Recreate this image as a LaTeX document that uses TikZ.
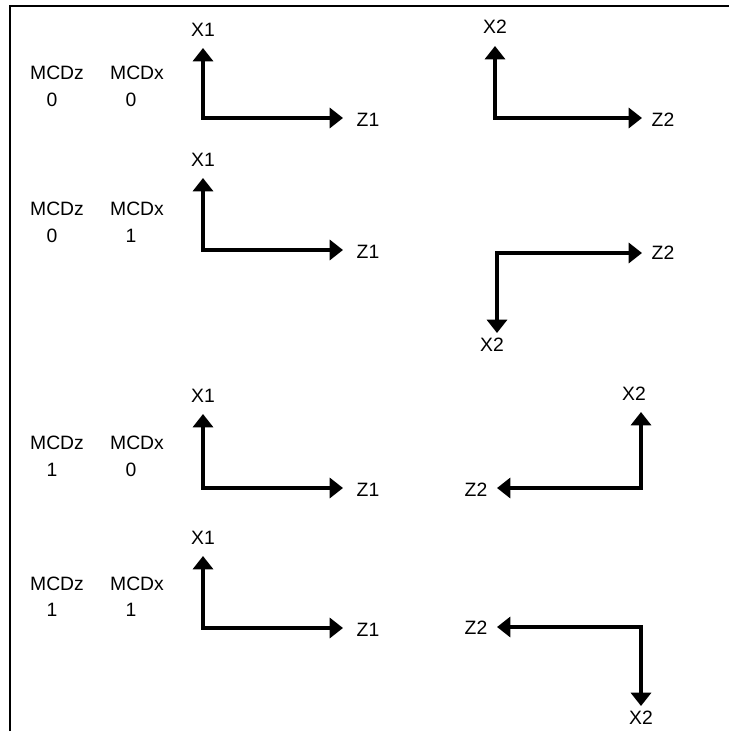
\documentclass[tikz,border=0pt]{standalone}
\usepackage{fontspec}
\setmainfont{Liberation Sans}
\usetikzlibrary{arrows.meta}
\begin{document}
\begin{tikzpicture}[x=0.75pt,y=-0.75pt,
  every node/.style={font=\fontsize{14.5}{16}\selectfont,inner sep=0pt},
  axis/.style={line width=3pt,{Triangle[length=10pt,width=15pt]}-{Triangle[length=10pt,width=15pt]}}]
  \useasboundingbox (0,0) rectangle (734,731);
  \draw[line width=0.8pt] (10,731) -- (10,6) -- (729,6);
  % left column labels
  \node (mz1) at (57,73) {MCDz};  \node (mx1) at (137,73) {MCDx};
  \node (vz1) at (52,100) {0};    \node (vx1) at (131,100) {0};
  \node (mz2) at (57,209) {MCDz}; \node (mx2) at (137,209) {MCDx};
  \node (vz2) at (52,236) {0};    \node (vx2) at (131,236) {1};
  \node (mz3) at (57,443) {MCDz}; \node (mx3) at (137,443) {MCDx};
  \node (vz3) at (52,470) {1};    \node (vx3) at (131,470) {0};
  \node (mz4) at (57,584) {MCDz}; \node (mx4) at (137,584) {MCDx};
  \node (vz4) at (52,610) {1};    \node (vx4) at (131,610) {1};
  % frame 1
  \coordinate (ca1) at (203,118); \coordinate (xa1) at (203,48); \coordinate (za1) at (343,118);
  \node (lxa1) at (203,30) {X1}; \node (lza1) at (368,120) {Z1};
  \coordinate (ca2) at (203,250); \coordinate (xa2) at (203,178); \coordinate (za2) at (343,250);
  \node (lxa2) at (203,160) {X1}; \node (lza2) at (368,252) {Z1};
  \coordinate (ca3) at (203,488); \coordinate (xa3) at (203,414); \coordinate (za3) at (343,488);
  \node (lxa3) at (203,396) {X1}; \node (lza3) at (368,490) {Z1};
  \coordinate (ca4) at (203,628); \coordinate (xa4) at (203,556); \coordinate (za4) at (343,628);
  \node (lxa4) at (203,538) {X1}; \node (lza4) at (368,630) {Z1};
  \foreach \i in {1,...,4}
    \draw[axis] (xa\i) -- (ca\i) -- (za\i);
  % frame 2
  \coordinate (cb1) at (495,118); \coordinate (xb1) at (495,46); \coordinate (zb1) at (642,118);
  \node (lxb1) at (495,27) {X2}; \node (lzb1) at (663,120) {Z2};
  \coordinate (cb2) at (497,253); \coordinate (xb2) at (497,333); \coordinate (zb2) at (642,253);
  \node (lxb2) at (492,345) {X2}; \node (lzb2) at (663,253) {Z2};
  \coordinate (cb3) at (641,488); \coordinate (xb3) at (641,412); \coordinate (zb3) at (497,488);
  \node (lxb3) at (634,394) {X2}; \node (lzb3) at (476,490) {Z2};
  \coordinate (cb4) at (641,627); \coordinate (xb4) at (641,706); \coordinate (zb4) at (497,627);
  \node (lxb4) at (641,718) {X2}; \node (lzb4) at (476,628) {Z2};
  \foreach \i in {1,...,4}
    \draw[axis] (xb\i) -- (cb\i) -- (zb\i);
\end{tikzpicture}
\end{document}
